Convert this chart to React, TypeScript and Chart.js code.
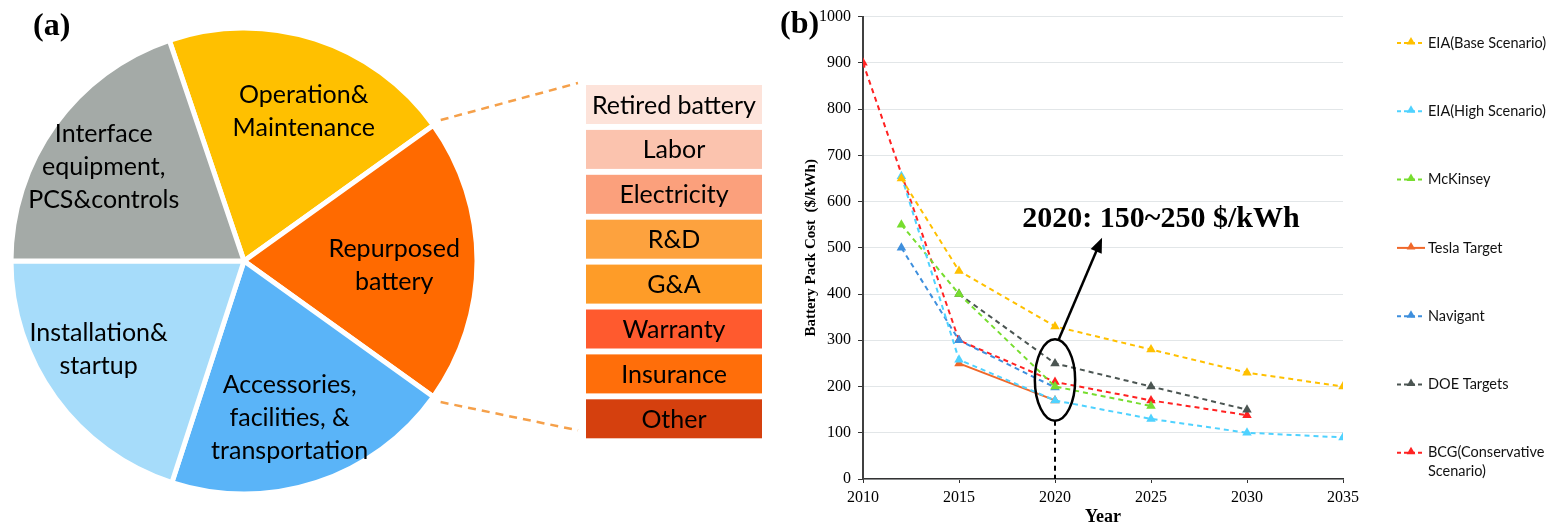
import React, { useEffect, useRef } from 'react';
import { Chart, registerables } from 'chart.js';

Chart.register(...registerables);

// ---------- Panel (a) data ----------
const pieLabels: string[][] = [
  ['Operation&', 'Maintenance'],
  ['Repurposed', 'battery'],
  ['Accessories,', 'facilities, &', 'transportation'],
  ['Installation&', 'startup'],
  ['Interface', 'equipment,', 'PCS&controls'],
];
const pieShares = [20.3, 19.8, 20.1, 20.0, 19.8];
const pieColors = ['#FFC000', '#FF6A00', '#5AB4F8', '#A6DCFA', '#A4AAA7'];

const repurposedItems = ['Retired battery', 'Labor', 'Electricity', 'R&D', 'G&A', 'Warranty', 'Insurance', 'Other'];
const repurposedColors = ['#FDE3DA', '#FBC3AE', '#FBA07C', '#FDA23E', '#FE9C28', '#FF5A2E', '#FF6E0A', '#D5400E'];

// ---------- Panel (b) data ----------
const years = [2010, 2012, 2015, 2020, 2025, 2030, 2035];
const seriesNames = [
  'EIA(Base Scenario)',
  'EIA(High Scenario)',
  'McKinsey',
  'Tesla Target',
  'Navigant',
  'DOE Targets',
  'BCG(Conservative Scenario)',
];
const eiaBase = [null, 650, 450, 330, 280, 230, 200];
const eiaHigh = [null, 655, 258, 170, 130, 100, 90];
const mckinsey = [null, 550, 400, 200, 158, null, null];
const teslaTarget = [null, null, 250, 170, null, null, null];
const navigant = [null, 500, 300, 198, null, null, null];
const doeTargets = [null, null, 400, 250, 200, 150, null];
const bcg = [900, null, 300, 210, 170, 138, null];
const seriesValues = [eiaBase, eiaHigh, mckinsey, teslaTarget, navigant, doeTargets, bcg];
const seriesColors = ['#FFC000', '#4FD2FF', '#77DD2F', '#F0682A', '#3E8FDD', '#4B5552', '#FF2222'];
const seriesDashed = [true, true, true, false, true, true, true];

const annotationText = '2020: 150~250 $/kWh';
const highlightYear = 2020;
const highlightLow = 126;
const highlightHigh = 302;

// ---------- layout constants ----------
const PIE_LABEL_FONT = '25px Lato';
const PIE_LINE_H = 33;
const labelNudgeDeg = [4, 1.6, 1.9, 4.7, -1.8];
const labelRadiusFactor = [0.69, 0.645, 0.70, 0.73, 0.725];
const BOX_LEFT = 586;
const BOX_TOP = 85;
const BOX_W = 176;
const BOX_H = 39;
const BOX_PITCH = 44.9;

const pieDecor = {
  id: 'pieDecor',
  afterDatasetsDraw(chart: any) {
    const ctx = chart.ctx as CanvasRenderingContext2D;
    const meta = chart.getDatasetMeta(0);
    ctx.save();
    // slice labels
    ctx.font = PIE_LABEL_FONT;
    ctx.fillStyle = '#000';
    ctx.textAlign = 'center';
    ctx.textBaseline = 'middle';
    meta.data.forEach((arc: any, i: number) => {
      const p = arc.getProps(['x', 'y', 'startAngle', 'endAngle', 'outerRadius'], true);
      const mid = (p.startAngle + p.endAngle) / 2 + (labelNudgeDeg[i] * Math.PI) / 180;
      const r = p.outerRadius * labelRadiusFactor[i];
      const lx = p.x + Math.cos(mid) * r;
      const ly = p.y + Math.sin(mid) * r;
      const lines = pieLabels[i];
      lines.forEach((t, k) => ctx.fillText(t, lx, ly + (k - (lines.length - 1) / 2) * PIE_LINE_H));
    });
    // breakdown boxes
    ctx.font = '25px Lato';
    repurposedItems.forEach((t, i) => {
      const top = BOX_TOP + i * BOX_PITCH;
      ctx.fillStyle = repurposedColors[i];
      ctx.fillRect(BOX_LEFT, top, BOX_W, BOX_H);
      ctx.fillStyle = '#000';
      ctx.fillText(t, BOX_LEFT + BOX_W / 2, top + BOX_H / 2 + 1);
    });
    // connectors from repurposed slice
    const arc = meta.data[1];
    const p = arc.getProps(['x', 'y', 'startAngle', 'endAngle', 'outerRadius'], true);
    const rr = p.outerRadius + 9;
    const lastBottom = BOX_TOP + (repurposedItems.length - 1) * BOX_PITCH + BOX_H;
    ctx.strokeStyle = '#F5A04A';
    ctx.lineWidth = 2.5;
    ctx.setLineDash([8, 6]);
    ctx.beginPath();
    ctx.moveTo(p.x + Math.cos(p.startAngle) * rr, p.y + Math.sin(p.startAngle) * rr);
    ctx.lineTo(BOX_LEFT - 8, BOX_TOP - 2);
    ctx.moveTo(p.x + Math.cos(p.endAngle) * rr, p.y + Math.sin(p.endAngle) * rr);
    ctx.lineTo(BOX_LEFT - 8, lastBottom - 8);
    ctx.stroke();
    ctx.setLineDash([]);
    // panel label
    ctx.font = 'bold 32px "Liberation Serif"';
    ctx.textAlign = 'left';
    ctx.fillStyle = '#000';
    ctx.fillText('(a)', 33, 27);
    ctx.restore();
  },
};

function drawTriangle(ctx: CanvasRenderingContext2D, x: number, y: number, r: number) {
  ctx.beginPath();
  for (let k = 0; k < 3; k++) {
    const a = (k * 2 * Math.PI) / 3;
    const px = x + Math.sin(a) * r;
    const py = y - Math.cos(a) * r;
    if (k === 0) ctx.moveTo(px, py);
    else ctx.lineTo(px, py);
  }
  ctx.closePath();
  ctx.fill();
}

const lineDecor = {
  id: 'lineDecor',
  afterDraw(chart: any) {
    const ctx = chart.ctx as CanvasRenderingContext2D;
    const xs = chart.scales.x;
    const ys = chart.scales.y;
    ctx.save();
    // ellipse
    const cx = xs.getPixelForValue(highlightYear);
    const top = ys.getPixelForValue(highlightHigh);
    const bot = ys.getPixelForValue(highlightLow);
    const rx = xs.getPixelForValue(highlightYear + 1.05) - cx;
    ctx.strokeStyle = '#000';
    ctx.lineWidth = 2.5;
    ctx.beginPath();
    ctx.ellipse(cx, (top + bot) / 2, rx, (bot - top) / 2, 0, 0, Math.PI * 2);
    ctx.stroke();
    // dashed drop line
    ctx.lineWidth = 2;
    ctx.setLineDash([5, 4]);
    ctx.beginPath();
    ctx.moveTo(cx, bot);
    ctx.lineTo(cx, ys.getPixelForValue(0));
    ctx.stroke();
    ctx.setLineDash([]);
    // arrow
    const ax0 = xs.getPixelForValue(highlightYear + 0.2);
    const ay0 = top;
    const ax1 = xs.getPixelForValue(2022.45);
    const ay1 = ys.getPixelForValue(522);
    const ang = Math.atan2(ay1 - ay0, ax1 - ax0);
    const headL = 15;
    ctx.lineWidth = 2.5;
    ctx.beginPath();
    ctx.moveTo(ax0, ay0);
    ctx.lineTo(ax1 - Math.cos(ang) * headL * 0.8, ay1 - Math.sin(ang) * headL * 0.8);
    ctx.stroke();
    ctx.fillStyle = '#000';
    ctx.beginPath();
    ctx.moveTo(ax1, ay1);
    ctx.lineTo(ax1 - Math.cos(ang) * headL + Math.sin(ang) * 6, ay1 - Math.sin(ang) * headL - Math.cos(ang) * 6);
    ctx.lineTo(ax1 - Math.cos(ang) * headL - Math.sin(ang) * 6, ay1 - Math.sin(ang) * headL + Math.cos(ang) * 6);
    ctx.closePath();
    ctx.fill();
    // annotation text
    ctx.font = 'bold 30px "Liberation Serif"';
    ctx.textAlign = 'left';
    ctx.textBaseline = 'middle';
    ctx.fillText(annotationText, xs.getPixelForValue(2018.3), ys.getPixelForValue(561));
    // panel label
    ctx.font = 'bold 32px "Liberation Serif"';
    ctx.fillText('(b)', 0, 25);
    // legend
    const lx = chart.chartArea.right + 54;
    let ly = 43;
    const step = 68.3;
    ctx.font = '14.5px Lato';
    chart.data.datasets.forEach((ds: any, i: number) => {
      ctx.strokeStyle = ds.borderColor;
      ctx.fillStyle = ds.borderColor;
      ctx.lineWidth = 2;
      ctx.setLineDash(seriesDashed[i] ? [4, 3] : []);
      ctx.beginPath();
      ctx.moveTo(lx, ly);
      ctx.lineTo(lx + 28, ly);
      ctx.stroke();
      ctx.setLineDash([]);
      drawTriangle(ctx, lx + 14, ly - 1, 5);
      ctx.fillStyle = '#111';
      const words = String(ds.label).split(' ');
      const lines: string[] = [];
      let cur = '';
      words.forEach((w) => {
        const test = cur ? cur + ' ' + w : w;
        if (ctx.measureText(test).width > 135 && cur) {
          lines.push(cur);
          cur = w;
        } else cur = test;
      });
      lines.push(cur);
      lines.forEach((t, k) => ctx.fillText(t, lx + 31, ly + k * 19));
      ly += step;
    });
    ctx.restore();
  },
};

export default function App() {
  const pieRef = useRef<HTMLCanvasElement>(null);
  const lineRef = useRef<HTMLCanvasElement>(null);

  useEffect(() => {
    const pie = new Chart(pieRef.current!, {
      type: 'pie',
      data: {
        labels: pieLabels.map((l) => l.join(' ')),
        datasets: [
          {
            data: pieShares,
            backgroundColor: pieColors,
            borderColor: '#ffffff',
            borderWidth: 5,
          },
        ],
      },
      options: {
        responsive: false,
        animation: false,
        devicePixelRatio: 1,
        rotation: -18.7,
        radius: 233,
        layout: { padding: { left: 11, right: 303, top: 28, bottom: 32 } },
        plugins: { legend: { display: false }, tooltip: { enabled: false } },
        events: [],
      },
      plugins: [pieDecor],
    });

    const line = new Chart(lineRef.current!, {
      type: 'line',
      data: {
        datasets: seriesNames.map((name, i) => ({
          label: name,
          data: years.map((x, k) => ({ x, y: seriesValues[i][k] })),
          borderColor: seriesColors[i],
          backgroundColor: seriesColors[i],
          borderWidth: 2,
          borderDash: seriesDashed[i] ? [5, 4] : [],
          pointStyle: 'triangle',
          pointRadius: 5.5,
          pointBorderWidth: 0,
          pointBackgroundColor: seriesColors[i],
          spanGaps: true,
          tension: 0,
          fill: false,
        })),
      },
      options: {
        responsive: false,
        animation: false,
        devicePixelRatio: 1,
        events: [],
        layout: { padding: { left: 0, right: 210, top: 12, bottom: 0 } },
        plugins: { legend: { display: false }, tooltip: { enabled: false } },
        scales: {
          x: {
            type: 'linear',
            min: 2010,
            max: 2035,
            afterFit: (s: any) => {
              s.height = 47;
            },
            grid: { drawOnChartArea: false, drawTicks: true, tickLength: 4, tickColor: '#333' },
            border: { color: '#333', width: 1.5 },
            ticks: {
              stepSize: 5,
              padding: 5,
              color: '#000',
              font: { family: '"Liberation Serif"', size: 16 },
              callback: (v: any) => String(v),
            },
            title: {
              display: true,
              text: 'Year',
              color: '#000',
              font: { family: '"Liberation Serif"', size: 18, weight: 'bold', lineHeight: 1 },
              padding: { top: 0, bottom: 0 },
            },
          },
          y: {
            min: 0,
            max: 1000,
            afterFit: (s: any) => {
              s.width = 83;
            },
            grid: { color: '#E2E6E8', lineWidth: 1, tickLength: 5, tickColor: '#333' },
            border: { color: '#404040', width: 2 },
            ticks: {
              stepSize: 100,
              padding: 7,
              color: '#000',
              font: { family: '"Liberation Serif"', size: 16 },
              callback: (v: any) => String(v),
            },
            title: {
              display: true,
              text: 'Battery Pack Cost  ($/kWh)',
              color: '#000',
              font: { family: '"Liberation Serif"', size: 15, weight: 'bold', lineHeight: 1 },
              padding: { top: 24, bottom: 0 },
            },
          },
        },
      },
      plugins: [lineDecor],
    });

    return () => {
      pie.destroy();
      line.destroy();
    };
  }, []);

  return (
    <div style={{ position: 'fixed', left: 0, top: 0, width: 1553, height: 526, background: '#fff' }}>
      <canvas ref={pieRef} width={780} height={526} style={{ position: 'absolute', left: 0, top: 0 }} />
      <canvas ref={lineRef} width={773} height={526} style={{ position: 'absolute', left: 780, top: 0 }} />
    </div>
  );
}
